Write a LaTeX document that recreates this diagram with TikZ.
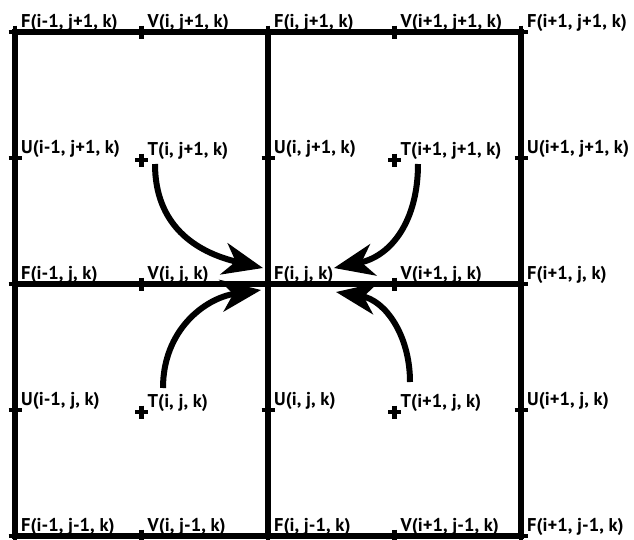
\documentclass[tikz,border=0pt]{standalone}
\usepackage{fontspec}
\setmainfont{PT Sans}
\usetikzlibrary{arrows.meta}
\tikzset{
  gridline/.style={line width=5.5pt,draw=black},
  crossmark/.style={line width=4.5pt,draw=black},
  cellabel/.style={
    anchor=base west,
    inner sep=0pt,
    xshift=6pt,
    yshift=5pt,
    font=\bfseries\fontsize{18.5}{18.5}\selectfont
  },
  fluxarrow/.style={-{Stealth[length=40pt,width=32pt,inset=12pt]},line width=6pt,draw=black}
}
\begin{document}
\begin{tikzpicture}[x=1pt,y=-1pt]
  \useasboundingbox (0,0) rectangle (634,539);
  % corner (F), side (U, V) and centre (T) points
  \coordinate (fa) at (15,32);   \coordinate (fb) at (268,32);  \coordinate (fc) at (521,32);
  \coordinate (fd) at (15,284);  \coordinate (fe) at (268,284); \coordinate (ff) at (521,284);
  \coordinate (fg) at (15,536);  \coordinate (fh) at (268,536); \coordinate (fi) at (521,536);
  \coordinate (ua) at (15,158);  \coordinate (ub) at (268,158); \coordinate (uc) at (521,158);
  \coordinate (ud) at (15,410);  \coordinate (ue) at (268,410); \coordinate (uf) at (521,410);
  \coordinate (va) at (141.5,32);  \coordinate (vb) at (394.5,32);
  \coordinate (vc) at (141.5,284); \coordinate (vd) at (394.5,284);
  \coordinate (ve) at (141.5,536); \coordinate (vf) at (394.5,536);
  \coordinate (ta) at (141.5,160); \coordinate (tb) at (394.5,160);
  \coordinate (tc) at (141.5,412); \coordinate (td) at (394.5,412);

  \draw[gridline] (fa) rectangle (fi);
  \draw[gridline] (fb) -- (fh);
  \draw[gridline] (fd) -- (ff);

  \foreach \p in {fa,fb,fc,fd,fe,ff,fg,fh,fi,ua,ub,uc,ud,ue,uf,va,vb,vc,vd,ve,vf,ta,tb,tc,td}
    \draw[crossmark] (\p) +(-6.5,0) -- +(6.5,0) (\p) +(0,-6.5) -- +(0,6.5);

  \node[cellabel] (lfa) at (fa) {F(i-1, j+1, k)};
  \node[cellabel] (lfb) at (fb) {F(i, j+1, k)};
  \node[cellabel] (lfc) at (fc) {F(i+1, j+1, k)};
  \node[cellabel] (lfd) at (fd) {F(i-1, j, k)};
  \node[cellabel] (lfe) at (fe) {F(i, j, k)};
  \node[cellabel] (lff) at (ff) {F(i+1, j, k)};
  \node[cellabel] (lfg) at (fg) {F(i-1, j-1, k)};
  \node[cellabel] (lfh) at (fh) {F(i, j-1, k)};
  \node[cellabel] (lfi) at (fi) {F(i+1, j-1, k)};
  \node[cellabel] (lua) at (ua) {U(i-1, j+1, k)};
  \node[cellabel] (lub) at (ub) {U(i, j+1, k)};
  \node[cellabel] (luc) at (uc) {U(i+1, j+1, k)};
  \node[cellabel] (lud) at (ud) {U(i-1, j, k)};
  \node[cellabel] (lue) at (ue) {U(i, j, k)};
  \node[cellabel] (luf) at (uf) {U(i+1, j, k)};
  \node[cellabel] (lva) at (va) {V(i, j+1, k)};
  \node[cellabel] (lvb) at (vb) {V(i+1, j+1, k)};
  \node[cellabel] (lvc) at (vc) {V(i, j, k)};
  \node[cellabel] (lvd) at (vd) {V(i+1, j, k)};
  \node[cellabel] (lve) at (ve) {V(i, j-1, k)};
  \node[cellabel] (lvf) at (vf) {V(i+1, j-1, k)};
  \node[cellabel] (lta) at (ta) {T(i, j+1, k)};
  \node[cellabel] (ltb) at (tb) {T(i+1, j+1, k)};
  \node[cellabel] (ltc) at (tc) {T(i, j, k)};
  \node[cellabel] (ltd) at (td) {T(i+1, j, k)};

  % arrows towards F(i, j, k)
  \coordinate (sa) at (155,164);
  \coordinate (sb) at (418,164);
  \coordinate (sc) at (163,388);
  \coordinate (sd) at (410,382);
  \coordinate (ea) at (263,268);
  \coordinate (eb) at (334,268);
  \coordinate (ec) at (261,290);
  \coordinate (ed) at (336,292);
  \draw[fluxarrow] (sa) .. controls (155,225) and (195,252) .. (ea);
  \draw[fluxarrow] (sb) .. controls (418,220) and (392,256) .. (eb);
  \draw[fluxarrow] (sc) .. controls (163,330) and (205,298) .. (ec);
  \draw[fluxarrow] (sd) .. controls (410,335) and (385,300) .. (ed);
\end{tikzpicture}
\end{document}
